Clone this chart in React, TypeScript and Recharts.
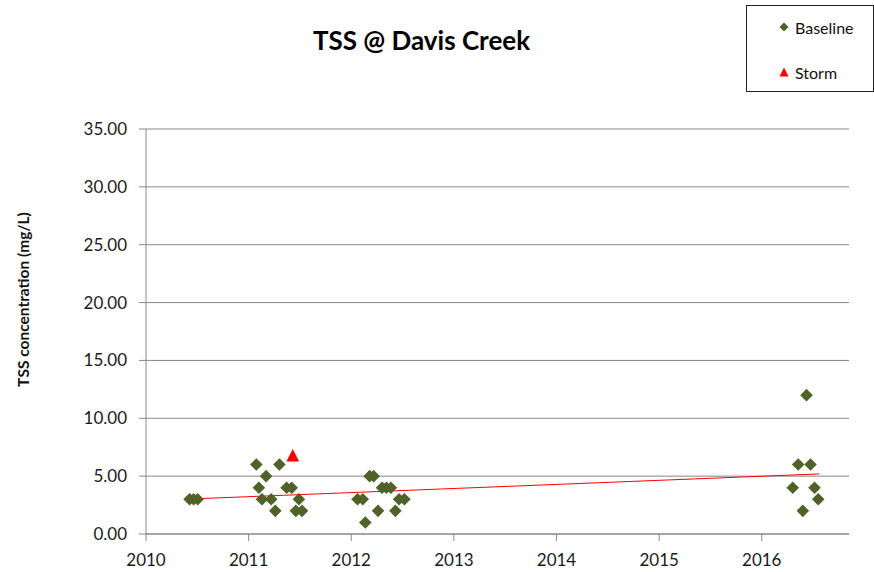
import { ScatterChart, Scatter, XAxis, YAxis, CartesianGrid, Legend } from 'recharts'

// sample dates (decimal year) and TSS (mg/L)
const baselineYear = [
  2010.425, 2010.464, 2010.503,
  2011.075, 2011.3, 2011.17, 2011.1, 2011.37, 2011.42, 2011.13, 2011.22, 2011.49, 2011.26, 2011.46, 2011.52,
  2012.179, 2012.218, 2012.3, 2012.342, 2012.386, 2012.061, 2012.112, 2012.466, 2012.518, 2012.261, 2012.43, 2012.137,
  2016.436, 2016.355, 2016.475, 2016.302, 2016.514, 2016.55, 2016.4,
]
const baselineTss = [
  3, 3, 3,
  6, 6, 5, 4, 4, 4, 3, 3, 3, 2, 2, 2,
  5, 5, 4, 4, 4, 3, 3, 3, 3, 2, 2, 1,
  12, 6, 6, 4, 4, 3, 2,
]
const stormYear = [2011.43]
const stormTss = [6.8]
// linear trendline end points
const trendYear = [2010.415, 2016.56]
const trendTss = [3.02, 5.19]

const yearTicks = [2010, 2011, 2012, 2013, 2014, 2015, 2016]
const tssTicks = [0, 5, 10, 15, 20, 25, 30, 35]

const baseline = baselineYear.map((x, i) => ({ x, y: baselineTss[i] }))
const storm = stormYear.map((x, i) => ({ x, y: stormTss[i] }))
const trend = trendYear.map((x, i) => ({ x, y: trendTss[i] }))

const OLIVE = '#4F6228'
const RED = '#FF0000'
const FONT = 'Lato, "Open Sans", sans-serif'

const Diamond = (p: any) => {
  const { cx, cy } = p
  const r = 6.3
  return <path d={`M${cx},${cy - r}L${cx + r},${cy}L${cx},${cy + r}L${cx - r},${cy}Z`} fill={OLIVE} />
}

const Triangle = (p: any) => {
  const { cx, cy } = p
  const w = 6.4
  const h = 6.2
  return <path d={`M${cx},${cy - h}L${cx + w},${cy + h}L${cx - w},${cy + h}Z`} fill={RED} />
}

const renderLegend = () => (
  <div style={{ position: 'relative', width: 128, height: 87, border: '1px solid #222', boxSizing: 'border-box', background: '#fff', fontFamily: FONT, fontSize: 16, color: '#111' }}>
    <div style={{ position: 'absolute', left: 32, top: 11, display: 'flex', alignItems: 'center', height: 20 }}>
      <svg width={10} height={10} style={{ marginRight: 6 }}>
        <path d="M5,0.5L9.5,5L5,9.5L0.5,5Z" fill={OLIVE} />
      </svg>
      <span>Baseline</span>
    </div>
    <div style={{ position: 'absolute', left: 32, top: 56, display: 'flex', alignItems: 'center', height: 20 }}>
      <svg width={10} height={10} style={{ marginRight: 6 }}>
        <path d="M5,0.5L9.5,9.5L0.5,9.5Z" fill={RED} />
      </svg>
      <span>Storm</span>
    </div>
  </div>
)

export default function App() {
  return (
    <div style={{ position: 'absolute', left: 0, top: 0, width: 874, height: 572, background: '#fff', fontFamily: FONT }}>
      <div style={{ position: 'absolute', left: 0, top: 25, width: 843, textAlign: 'center', fontSize: 26, fontWeight: 700, color: '#000', lineHeight: 1.2 }}>
        TSS @ Davis Creek
      </div>
      <ScatterChart width={874} height={572} margin={{ top: 129, right: 25, left: 0, bottom: 8 }}>
        <CartesianGrid vertical={false} stroke="#888" />
        <XAxis
          type="number"
          dataKey="x"
          domain={[2010, 2016.85]}
          ticks={yearTicks}
          allowDataOverflow
          height={30}
          tickSize={7}
          tickMargin={13}
          stroke="#888"
          tick={{ fontSize: 17, fill: '#1a1a1a', fontFamily: FONT }}
        />
        <YAxis
          type="number"
          dataKey="y"
          domain={[0, 35]}
          ticks={tssTicks}
          width={146}
          tickSize={7}
          tickMargin={12}
          stroke="#888"
          tickFormatter={(v) => Number(v).toFixed(2)}
          tick={{ fontSize: 17, fill: '#1a1a1a', fontFamily: FONT }}
          label={{ value: 'TSS concentration (mg/L)', angle: -90, position: 'center', dx: -50, dy: -32, style: { fontSize: 15.5, fontWeight: 700, fill: '#111', fontFamily: FONT } }}
        />
        <Legend
          layout="vertical"
          align="center"
          verticalAlign="middle"
          content={renderLegend}
          wrapperStyle={{ left: 746, top: 5, width: 128, height: 87 }}
        />
        <Scatter name="trend" data={trend} line={{ stroke: RED, strokeWidth: 1 }} shape={() => <g />} legendType="none" isAnimationActive={false} />
        <Scatter name="Baseline" data={baseline} shape={Diamond} isAnimationActive={false} />
        <Scatter name="Storm" data={storm} shape={Triangle} isAnimationActive={false} />
      </ScatterChart>
    </div>
  )
}
